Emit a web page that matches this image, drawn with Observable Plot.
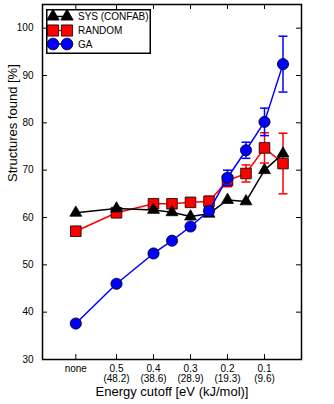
<!DOCTYPE html>
<html><head><meta charset="utf-8">
<script src="https://cdn.jsdelivr.net/npm/d3@7"></script>
<script src="https://cdn.jsdelivr.net/npm/@observablehq/plot@0.6"></script>
<style>
body{margin:0;background:#fff;}
#wrap{position:relative;width:334px;height:404px;}
#legend{position:absolute;left:46px;top:9px;}
</style>
</head><body><div id="wrap"></div>
<script>
// x position of each point (0.61 stands for "none")
const cutoffs = [0.61, 0.5, 0.4, 0.35, 0.3, 0.25, 0.2, 0.15, 0.1, 0.05];
const sysValues = [61.0, 61.9, 61.6, 61.1, 60.2, 60.8, 63.7, 63.4, 70.0, 73.5];
const randomValues = [57.1, 61.0, 62.9, 62.9, 63.2, 63.4, 67.8, 69.3, 74.7, 71.4];
const randomErr = [0, 0, 0, 0, 0.5, 1.1, 1.3, 1.8, 3.2, 6.4];
const gaValues = [37.6, 46.0, 52.4, 55.1, 58.1, 61.4, 68.4, 74.2, 80.2, 92.4];
const gaErr = [0, 0, 0, 0, 0, 0.7, 1.6, 1.7, 2.9, 5.9];
const xTickValues = [0.61, 0.5, 0.4, 0.3, 0.2, 0.1];
const xTickLabels = ["none", "0.5\n(48.2)", "0.4\n(38.6)", "0.3\n(28.9)", "0.2\n(19.3)", "0.1\n(9.6)"];
const yTicks = [30, 40, 50, 60, 70, 80, 90, 100];
const seriesNames = ["SYS (CONFAB)", "RANDOM", "GA"];
const seriesColors = ["black", "red", "blue"];
const xTitle = "Energy cutoff [eV (kJ/mol)]";
const yTitle = "Structures found [%]";

const rows = (vals, errs) => cutoffs.map((x, i) => ({x, y: vals[i], e: errs ? errs[i] : 0}));
const sys = rows(sysValues);
const rnd = rows(randomValues, randomErr);
const ga = rows(gaValues, gaErr);

const W = 334, H = 404, mL = 42, mR = 33, mT = 4, mB = 45;
const iW = W - mL - mR, iH = H - mT - mB;
const capSymbol = {draw(ctx, size) { ctx.moveTo(-4.5, 0); ctx.lineTo(4.5, 0); }};

function errMarks(data, color) {
  const d = data.filter(r => r.e > 0);
  return [
    Plot.ruleX(d, {x: "x", y1: r => r.y - r.e, y2: r => r.y + r.e, stroke: color, strokeWidth: 1.5}),
    Plot.dot(d, {x: "x", y: r => r.y + r.e, symbol: capSymbol, stroke: color, strokeWidth: 1.5, fill: "none"}),
    Plot.dot(d, {x: "x", y: r => r.y - r.e, symbol: capSymbol, stroke: color, strokeWidth: 1.5, fill: "none"})
  ];
}

const chart = Plot.plot({
  width: W, height: H,
  marginLeft: mL, marginRight: mR, marginTop: mT, marginBottom: mB,
  style: {fontFamily: "'Liberation Sans', Arial, sans-serif", fontSize: "10px", color: "black", background: "white"},
  x: {type: "linear", domain: [0.7, 0]},
  y: {type: "linear", domain: [30, 105]},
  marks: [
    // ticks inward on all four sides
    Plot.tickX(xTickValues, {x: d => d, insetTop: iH - 5, stroke: "black"}),
    Plot.tickX(xTickValues, {x: d => d, insetBottom: iH - 5, stroke: "black"}),
    Plot.tickY(yTicks, {y: d => d, insetRight: iW - 5, stroke: "black"}),
    Plot.tickY(yTicks, {y: d => d, insetLeft: iW - 5, stroke: "black"}),
    Plot.axisX({ticks: xTickValues, tickSize: 0, tickPadding: 5, label: null,
      tickFormat: d => xTickLabels[xTickValues.indexOf(d)], lineHeight: 1.0, fill: "black"}),
    Plot.axisY({ticks: yTicks, tickSize: 0, tickPadding: 9, label: null, fill: "black"}),
    Plot.text([xTitle], {text: d => d, frameAnchor: "bottom", dy: 36, fontSize: 13, fill: "black"}),
    Plot.text([yTitle], {text: d => d, frameAnchor: "left", dx: -30, rotate: -90, fontSize: 13, fill: "black"}),
    // RANDOM
    ...errMarks(rnd, "red"),
    Plot.line(rnd, {x: "x", y: "y", stroke: "red", strokeWidth: 1.5}),
    Plot.dot(rnd, {x: "x", y: "y", symbol: "square", r: 6, fill: "red", stroke: "black", strokeWidth: 0.8}),
    // SYS
    Plot.line(sys, {x: "x", y: "y", stroke: "black", strokeWidth: 1.5}),
    Plot.dot(sys, {x: "x", y: "y", symbol: "triangle", r: 4.4, fill: "black", stroke: "black", strokeWidth: 0.8}),
    // GA
    ...errMarks(ga, "blue"),
    Plot.line(ga, {x: "x", y: "y", stroke: "blue", strokeWidth: 1.5}),
    Plot.dot(ga, {x: "x", y: "y", symbol: "circle", r: 5.6, fill: "blue", stroke: "black", strokeWidth: 0.8}),
    Plot.frame({stroke: "black", strokeWidth: 1.5})
  ]
});
const wrap = document.getElementById("wrap");
wrap.appendChild(chart);

// legend
const symTypes = [d3.symbolTriangle, d3.symbolSquare, d3.symbolCircle];
const symSizes = [4.4, 6, 5.6].map(r => Math.PI * r * r * 1.1);
const lg = d3.select(wrap).append("svg").attr("id", "legend").attr("width", 105).attr("height", 45);
lg.append("rect").attr("x", 0.75).attr("y", 0.75).attr("width", 103.5).attr("height", 43.5)
  .attr("fill", "white").attr("stroke", "black").attr("stroke-width", 1.5);
const rowY = [7.5, 21.5, 35];
seriesNames.forEach((name, i) => {
  const g = lg.append("g").attr("transform", `translate(0,${rowY[i]})`);
  g.append("line").attr("x1", 7).attr("x2", 21).attr("stroke", seriesColors[i]).attr("stroke-width", 1.5);
  [7, 21].forEach(cx => g.append("path").attr("d", d3.symbol(symTypes[i], symSizes[i])())
    .attr("transform", `translate(${cx},0)`).attr("fill", seriesColors[i]).attr("stroke", "black").attr("stroke-width", 0.8));
  g.append("text").attr("x", 32).attr("y", 0).attr("dy", "0.35em").attr("font-size", 10)
    .attr("font-family", "'Liberation Sans', Arial, sans-serif").text(name);
});
</script>
</body></html>
